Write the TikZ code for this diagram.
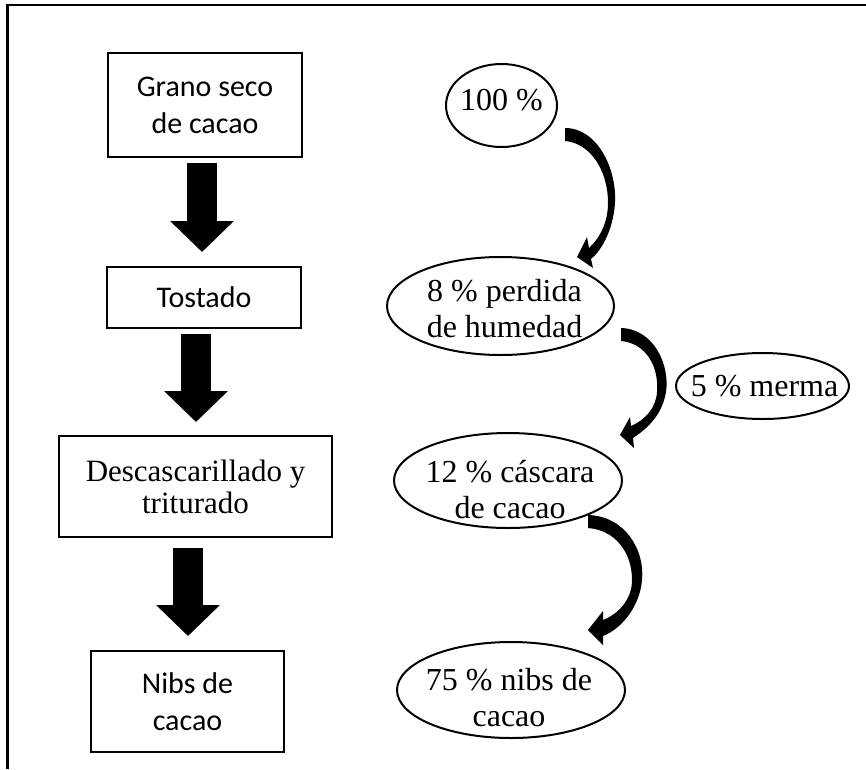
\documentclass[tikz,border=0pt]{standalone}
\usepackage{fontspec}
\setmainfont{Liberation Serif}
\newfontfamily\calib{Carlito}
\usetikzlibrary{shapes.geometric,arrows.meta}
\begin{document}
\begin{tikzpicture}[x=1pt,y=-1pt,
  cbox/.style={draw,line width=2pt,rectangle,inner sep=0pt,align=center,font=\calib\fontsize{30}{37}\selectfont},
  sbox/.style={draw,line width=2pt,rectangle,inner sep=0pt,align=center,font=\fontsize{31}{32}\selectfont},
  oval/.style={draw,line width=2pt,ellipse,inner sep=0pt},
  otext/.style={inner sep=0pt,align=center,font=\fontsize{32}{36}\selectfont},
  blockarrow/.style={line width=30pt,-{Triangle[width=62pt,length=31pt]}},
  curvy/.style={fill=black}]
\useasboundingbox (0,0) rectangle (866,769);
\draw[line width=2.7pt] (7.5,769) -- (7.5,5) -- (866,5);

% left column
\node[cbox,minimum width=194pt,minimum height=104pt] (b1) at (205,105) {Grano seco\\de cacao};
\node[cbox,minimum width=194pt,minimum height=61pt] (b2) at (204,297.5) {Tostado};
\node[sbox,minimum width=273pt,minimum height=101pt] (b3) at (195.5,486.5) {Descascarillado y\\triturado};
\node[cbox,minimum width=193pt,minimum height=101pt] (b4) at (187.5,701.5) {Nibs de\\cacao};

\draw[blockarrow] ([xshift=-3pt,yshift=-5pt]b1.south) -- ([xshift=-2pt,yshift=14pt]b2.north);
\draw[blockarrow] ([xshift=-8pt,yshift=-5pt]b2.south) -- ([xshift=0.5pt,yshift=13pt]b3.north);
\draw[blockarrow] ([xshift=-7.5pt,yshift=-10pt]b3.south) -- ([xshift=0.5pt,yshift=14pt]b4.north);

% right column
\node[oval,minimum width=111pt,minimum height=83pt] (e1) at (501.5,105.5) {};
\node[otext] (t1) at ([yshift=5pt]e1.center) {100 \%};
\node[oval,minimum width=227pt,minimum height=98pt] (e2) at (500.5,306) {};
\node[otext] (t2) at ([xshift=4pt,yshift=-3pt]e2.center) {8 \% perdida\\de humedad};
\node[oval,minimum width=173pt,minimum height=66pt] (e3) at (762.5,386) {};
\node[otext] (t3) at ([xshift=2pt]e3.center) {5 \% merma};
\node[oval,minimum width=228pt,minimum height=95pt] (e4) at (508,480.5) {};
\node[otext] (t4) at ([xshift=2pt,yshift=-9pt]e4.center) {12 \% cáscara\\de cacao};
\node[oval,minimum width=228pt,minimum height=96pt] (e5) at (511,690) {};
\node[otext] (t5) at ([xshift=-2pt,yshift=-8pt]e5.center) {75 \% nibs de\\cacao};

% curved arrows
\fill[curvy] (565,128) .. controls (598,128) and (617,170) .. (615,203)
  .. controls (613,232) and (600,252) .. (591,259) -- (593,268) -- (577,257) -- (587,237) -- (589,248)
  .. controls (600,238) and (608,222) .. (608,203)
  .. controls (608,170) and (590,143) .. (565,141) -- cycle;
\fill[curvy] (621,328) .. controls (654,329) and (670,365) .. (666,392)
  .. controls (662,415) and (648,428) .. (633,438) -- (634,448) -- (620,435) -- (630,417) -- (631,426)
  .. controls (645,420) and (656,408) .. (657,392)
  .. controls (659,365) and (645,343) .. (621,341) -- cycle;
\fill[curvy] (588,515) .. controls (625,516) and (645,550) .. (642,580)
  .. controls (640,605) and (623,628) .. (603,636) -- (603,645) -- (588,630) -- (603,611) -- (603,620)
  .. controls (618,614) and (632,600) .. (632,580)
  .. controls (632,552) and (615,530) .. (588,528) -- cycle;
\end{tikzpicture}
\end{document}
